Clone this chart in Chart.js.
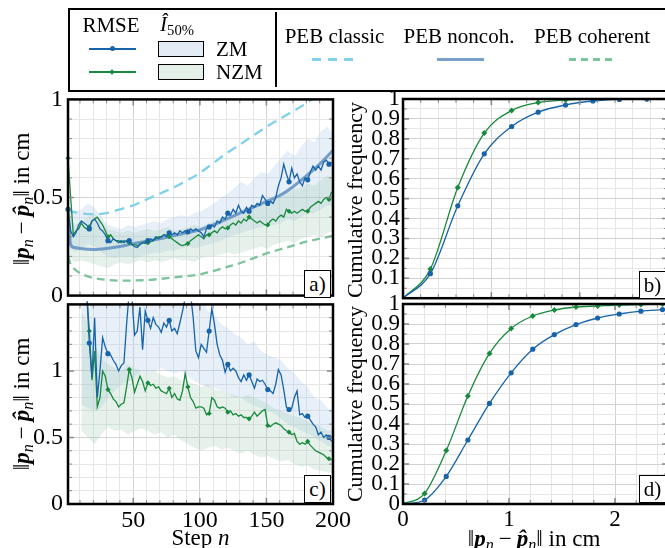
<!DOCTYPE html>
<html><head><meta charset="utf-8">
<script src="https://cdn.jsdelivr.net/npm/chart.js@4.4.1/dist/chart.umd.min.js"></script>
<style>
html,body{margin:0;padding:0;background:#fff;}
body{width:665px;height:548px;overflow:hidden;position:relative;font-family:"Liberation Serif","Times New Roman","DejaVu Serif",serif;color:#000;}
canvas{position:absolute;}
.t{position:absolute;white-space:nowrap;line-height:1;}
.c{transform:translate(-50%,-50%);}
.r{transform:translate(-50%,-50%) rotate(-90deg);}
sub{font-size:70%;vertical-align:-0.28em;line-height:0;}
.box{position:absolute;border:1.5px solid #000;background:#fff;box-sizing:border-box;}
.abs{position:absolute;}
.op{margin:0 0.22em;}
</style></head><body>

<canvas id="ca" width="345" height="235" style="left:0;top:80px"></canvas>
<canvas id="cb" width="345" height="235" style="left:340px;top:80px"></canvas>
<canvas id="cc" width="365" height="263" style="left:0;top:285px"></canvas>
<canvas id="cd" width="345" height="263" style="left:340px;top:285px"></canvas>

<!-- legend -->
<div class="abs" style="left:68px;top:8px;width:630px;height:84px;border:2px solid #000;box-sizing:border-box;"></div>
<div class="t c" style="left:111px;top:25px;font-size:21px">RMSE</div>
<div class="t c" style="left:177px;top:24px;font-size:21px"><i>Î</i><sub>50%</sub></div>
<div class="abs" style="left:89px;top:48px;width:47px;height:1.6px;background:#1764ab"></div>
<div class="abs" style="left:109.5px;top:46.3px;width:5px;height:5px;border-radius:50%;background:#1764ab"></div>
<div class="abs" style="left:89px;top:71px;width:47px;height:1.6px;background:#178a3c"></div>
<div class="abs" style="left:110px;top:69.8px;width:4px;height:4px;transform:rotate(45deg);background:#178a3c"></div>
<div class="abs" style="left:158px;top:41px;width:46px;height:16px;border:1px solid #000;background:#e3ebf5;box-sizing:border-box"></div>
<div class="abs" style="left:158px;top:64px;width:46px;height:16px;border:1px solid #000;background:#e3efe7;box-sizing:border-box"></div>
<div class="t" style="left:216px;top:39px;font-size:21px">ZM</div>
<div class="t" style="left:216px;top:62px;font-size:21px">NZM</div>
<div class="abs" style="left:275px;top:12px;width:1.5px;height:75px;background:#000"></div>
<div class="t c" style="left:334.5px;top:36px;font-size:21px">PEB classic</div>
<div class="t c" style="left:459px;top:36px;font-size:21px">PEB noncoh.</div>
<div class="t c" style="left:592px;top:36px;font-size:21px">PEB coherent</div>
<div class="abs" style="left:312px;top:58px;width:43px;height:2.5px;background:repeating-linear-gradient(90deg,#7fd1ec 0 9px,transparent 9px 16px)"></div>
<div class="abs" style="left:437px;top:57.5px;width:47px;height:3px;background:rgba(88,138,190,0.8)"></div>
<div class="abs" style="left:569px;top:58px;width:48px;height:2.5px;background:repeating-linear-gradient(90deg,#7cc49a 0 7px,transparent 7px 12px)"></div>

<!-- axis titles -->
<div class="t r" style="left:21px;top:198.5px;font-size:23px">‖<b><i>p</i></b><sub><i>n</i></sub><span class="op">−</span><b><i>p̂</i></b><sub><i>n</i></sub>‖ in cm</div>
<div class="t r" style="left:21px;top:403.5px;font-size:23px">‖<b><i>p</i></b><sub><i>n</i></sub><span class="op">−</span><b><i>p̂</i></b><sub><i>n</i></sub>‖ in cm</div>
<div class="t r" style="left:355px;top:199.5px;font-size:22px">Cumulative frequency</div>
<div class="t r" style="left:355px;top:404px;font-size:22px">Cumulative frequency</div>
<div class="t c" style="left:200.5px;top:537px;font-size:23px">Step <i>n</i></div>
<div class="t c" style="left:534px;top:538px;font-size:23px">‖<b><i>p</i></b><sub><i>n</i></sub><span class="op">−</span><b><i>p̂</i></b><sub><i>n</i></sub>‖ in cm</div>

<!-- panel labels -->
<div class="box" style="left:304px;top:270px;width:27px;height:28px"></div><div class="t c" style="left:317.5px;top:284px;font-size:21px">a)</div>
<div class="box" style="left:639px;top:271px;width:27px;height:28px"></div><div class="t c" style="left:652.5px;top:285px;font-size:21px">b)</div>
<div class="box" style="left:304px;top:475px;width:27px;height:28px"></div><div class="t c" style="left:317.5px;top:489px;font-size:21px">c)</div>
<div class="box" style="left:639px;top:475px;width:27px;height:28px"></div><div class="t c" style="left:652.5px;top:489px;font-size:21px">d)</div>

<script>
// ---------------- DATA ----------------
const stepsA = [1,3,5,7,9,11,13,15,17,19,21,23,25,27,29,31,33,35,37,39,41,43,45,47,49,51,53,55,57,59,61,63,65,67,69,71,73,75,77,79,81,83,85,87,89,91,93,95,97,99,101,103,105,107,109,111,113,115,117,119,121,123,125,127,129,131,133,135,137,139,141,143,145,147,149,151,153,155,157,159,161,163,165,167,169,171,173,175,177,179,181,183,185,187,189,191,193,195,197,199];
const zmRmseA = [0.44,0.33,0.30,0.32,0.36,0.38,0.37,0.36,0.34,0.38,
 0.39,0.37,0.34,0.33,0.31,0.28,0.27,0.29,0.28,0.27,
 0.28,0.27,0.28,0.28,0.26,0.25,0.245,0.26,0.27,0.265,
 0.28,0.29,0.28,0.30,0.29,0.30,0.31,0.30,0.32,0.31,
 0.32,0.31,0.33,0.32,0.33,0.325,0.34,0.33,0.34,0.33,
 0.32,0.30,0.34,0.35,0.36,0.35,0.38,0.37,0.40,0.39,
 0.42,0.41,0.44,0.42,0.46,0.43,0.42,0.45,0.43,0.46,
 0.45,0.47,0.46,0.51,0.49,0.47,0.48,0.47,0.50,0.56,
 0.60,0.67,0.62,0.58,0.65,0.60,0.62,0.58,0.56,0.60,
 0.59,0.63,0.66,0.64,0.66,0.64,0.68,0.69,0.67,0.68];
const nzmRmseA = [0.70,0.50,0.31,0.33,0.34,0.37,0.35,0.34,0.35,0.38,
 0.39,0.40,0.38,0.36,0.33,0.30,0.31,0.29,0.28,0.28,
 0.27,0.28,0.275,0.27,0.26,0.26,0.255,0.26,0.27,0.275,
 0.27,0.275,0.28,0.29,0.30,0.30,0.31,0.31,0.30,0.29,
 0.28,0.27,0.26,0.255,0.26,0.265,0.28,0.29,0.30,0.31,
 0.30,0.29,0.31,0.31,0.32,0.33,0.32,0.34,0.35,0.34,
 0.345,0.36,0.37,0.36,0.38,0.37,0.39,0.38,0.40,0.39,
 0.38,0.37,0.38,0.37,0.36,0.36,0.38,0.39,0.38,0.40,
 0.41,0.40,0.44,0.43,0.42,0.43,0.42,0.43,0.44,0.43,
 0.43,0.45,0.46,0.47,0.48,0.47,0.49,0.50,0.49,0.53];

const stepsC = [15,17,19,21,23,25,27,29,31,33,35,37,39,41,43,45,47,49,51,53,55,57,59,61,63,65,67,69,71,73,75,77,79,81,83,85,87,89,91,93,95,97,99,101,103,105,107,109,111,113,115,117,119,121,123,125,127,129,131,133,135,137,139,141,143,145,147,149,151,153,155,157,159,161,163,165,167,169,171,173,175,177,179,181,183,185,187,189,191,193,195,197,199];
const zmRmseC = [1.60,
 1.21,0.95,1.40,0.80,1.00,1.25,1.18,1.13,1.12,1.08,1.05,1.00,1.04,1.06,1.35,1.60,1.55,1.27,1.30,1.48,1.16,1.45,1.38,1.32,1.40,1.35,1.33,1.29,1.36,1.33,1.38,1.30,1.32,1.28,1.36,1.45,1.55,1.60,1.58,1.40,1.15,1.10,
 1.20,1.17,1.14,1.30,1.47,1.35,1.20,1.12,1.08,0.99,
 1.05,1.00,1.02,1.00,0.95,0.92,0.97,0.93,0.97,0.92,
 0.87,0.94,0.92,0.93,0.90,0.86,0.85,0.83,0.90,1.01,
 0.97,0.86,0.73,0.71,0.72,0.80,0.85,0.67,0.68,0.65,
 0.66,0.63,0.60,0.58,0.52,0.54,0.50,0.52,0.50,0.47];
const nzmRmseC = [1.60,
 1.30,0.93,1.15,0.73,0.80,1.00,0.96,0.86,0.83,0.79,0.77,0.73,0.75,0.76,0.88,1.01,0.95,0.84,0.90,0.96,0.92,0.85,0.91,0.89,0.90,0.87,0.88,0.85,0.84,0.83,0.87,0.80,0.83,0.79,0.78,0.85,0.98,0.88,0.80,0.77,0.72,0.73,
 0.73,0.72,0.67,0.68,0.80,0.78,0.73,0.72,0.73,0.72,
 0.69,0.70,0.67,0.68,0.66,0.67,0.65,0.65,0.64,0.66,
 0.69,0.66,0.68,0.70,0.71,0.59,0.58,0.60,0.61,0.60,
 0.59,0.565,0.55,0.54,0.52,0.53,0.47,0.45,0.46,0.45,
 0.47,0.44,0.42,0.40,0.39,0.38,0.37,0.35,0.34,0.33];

const bandStepsA = [1,6,11,16,21,26,31,36,41,46,51,56,61,66,71,76,81,86,91,96,101,106,111,116,121,126,131,136,141,146,151,156,161,166,171,176,181,186,191,196,200];
const zmUpA  = [0.46,0.42,0.44,0.47,0.45,0.40,0.36,0.35,0.34,0.36,0.35,0.36,0.37,0.38,0.37,0.39,0.40,0.41,0.40,0.42,0.43,0.45,0.47,0.50,0.52,0.55,0.58,0.56,0.60,0.63,0.62,0.66,0.70,0.74,0.71,0.76,0.80,0.78,0.84,0.86,0.82];
const zmLoA  = [0.25,0.22,0.24,0.26,0.25,0.22,0.20,0.19,0.20,0.20,0.19,0.20,0.21,0.22,0.22,0.23,0.23,0.24,0.25,0.24,0.25,0.26,0.27,0.28,0.30,0.31,0.32,0.33,0.34,0.35,0.36,0.36,0.37,0.39,0.38,0.40,0.42,0.42,0.44,0.46,0.45];
const nzmUpA = [0.42,0.36,0.38,0.40,0.42,0.38,0.34,0.33,0.32,0.33,0.32,0.33,0.34,0.33,0.34,0.35,0.33,0.34,0.35,0.36,0.35,0.37,0.38,0.40,0.41,0.43,0.44,0.45,0.46,0.47,0.48,0.50,0.52,0.53,0.54,0.55,0.57,0.56,0.59,0.61,0.60];
const nzmLoA = [0.20,0.17,0.18,0.17,0.16,0.15,0.14,0.16,0.17,0.16,0.17,0.18,0.17,0.18,0.17,0.18,0.19,0.18,0.18,0.17,0.19,0.20,0.20,0.21,0.22,0.21,0.22,0.23,0.24,0.25,0.24,0.26,0.27,0.28,0.27,0.29,0.30,0.31,0.30,0.32,0.33];

const bandStepsC = [11,16,21,26,31,36,41,46,51,56,61,66,71,76,81,86,91,96,101,106,111,116,121,126,131,136,141,146,151,156,161,166,171,176,181,186,191,196,200];
const zmUpC  = [1.55,1.6,1.6,1.6,1.6,1.6,1.6,1.6,1.6,1.6,1.6,1.6,1.6,1.6,1.6,1.6,1.6,1.6,1.55,1.45,1.42,1.35,1.32,1.28,1.25,1.20,1.22,1.15,1.12,1.10,1.08,1.02,0.98,0.92,0.88,0.80,0.78,0.72,0.70];
const zmLoC  = [0.75,0.72,0.70,0.72,0.80,0.85,0.90,0.92,0.95,1.00,0.98,1.00,1.02,1.00,0.98,1.00,0.96,0.92,0.90,0.88,0.87,0.85,0.83,0.80,0.80,0.76,0.74,0.72,0.70,0.68,0.64,0.60,0.58,0.55,0.53,0.50,0.47,0.44,0.42];
const nzmUpC = [1.45,1.35,1.20,1.10,1.05,1.02,1.00,1.05,1.02,1.00,0.98,1.00,0.97,0.95,0.96,0.93,0.92,0.90,0.88,0.90,0.86,0.85,0.83,0.82,0.80,0.82,0.80,0.78,0.75,0.72,0.70,0.68,0.66,0.65,0.62,0.60,0.58,0.55,0.55];
const nzmLoC = [0.55,0.50,0.45,0.52,0.58,0.55,0.56,0.52,0.55,0.57,0.55,0.52,0.54,0.50,0.52,0.48,0.45,0.42,0.40,0.42,0.44,0.41,0.42,0.40,0.38,0.40,0.37,0.35,0.36,0.34,0.32,0.33,0.30,0.28,0.29,0.26,0.25,0.24,0.23];

const pebSteps    = [1,3,6,10,20,30,40,50,60,70,80,90,100,110,120,130,140,150,160,170,180,190,200];
const pebClassic  = [0.44,0.43,0.425,0.42,0.415,0.42,0.44,0.46,0.49,0.52,0.55,0.585,0.625,0.675,0.725,0.77,0.815,0.86,0.90,0.94,0.98,1.03,1.08];
const pebNoncoh   = [0.44,0.26,0.245,0.24,0.235,0.24,0.25,0.265,0.277,0.29,0.305,0.32,0.335,0.36,0.39,0.42,0.45,0.48,0.51,0.555,0.61,0.67,0.74];
const pebCoherent = [0.20,0.16,0.135,0.115,0.09,0.08,0.076,0.077,0.079,0.085,0.092,0.10,0.108,0.125,0.145,0.165,0.19,0.215,0.235,0.255,0.275,0.29,0.305];

const cdfXb   = [0,0.31,0.62,0.92,1.23,1.53,1.84,2.15,2.45,2.76,3.07];
const zmCdfB  = [0,0.123,0.464,0.725,0.862,0.934,0.97,0.99,0.998,1.0,1.0];
const nzmCdfB = [0,0.146,0.556,0.829,0.942,0.982,0.995,1.0,1.0,1.0,1.0];
const cdfXd   = [0,0.204,0.408,0.612,0.816,1.02,1.224,1.428,1.632,1.836,2.04,2.244,2.448,2.652];
const zmCdfD  = [0,0.02,0.138,0.32,0.503,0.656,0.774,0.847,0.897,0.93,0.95,0.964,0.972,0.98];
const nzmCdfD = [0,0.053,0.267,0.54,0.753,0.878,0.94,0.97,0.985,0.99,0.995,0.997,1.0,1.0];

// ---------------- STYLE / HELPERS ----------------
Chart.defaults.font.family = "'Liberation Serif','Times New Roman','DejaVu Serif',serif";
Chart.defaults.color = '#000';
Chart.defaults.animation = false;

const COL = {zm:'#1764ab', nzm:'#178a3c', classic:'#7fd1ec', noncoh:'rgba(88,138,190,0.8)', coh:'#7cc49a',
  zmBand:'rgba(170,198,230,0.28)', nzmBand:'rgba(160,205,180,0.28)'};

function range(a, b, s){ const r=[]; for(let k=0; a+k*s<=b+1e-9; k++) r.push(Math.round((a+k*s)*1000)/1000); return r; }
function pts(xs, ys){ return xs.map((x,i)=>({x:x, y:ys[i]})); }
const markTS = ctx => { const n = ctx.raw ? ctx.raw.x : 0; const i=(n-1)/2; return Math.round(Math.round(i/7.5)*7.5)===i ? 2.6 : 0; };

function rmseDs(xs, ys, color, style, order, radius){
  return {data: pts(xs,ys), borderColor: color, backgroundColor: color, borderWidth: 1.3,
    pointRadius: radius, pointHoverRadius: 0, pointStyle: style, pointBorderWidth: 0, tension: 0, order: order, clip: 3};
}
function cdfDs(xs, ys, color, style, order){
  return {data: pts(xs,ys), borderColor: color, backgroundColor: color, borderWidth: 1.3,
    pointRadius: style==='circle'?2.6:3, pointHoverRadius: 0, pointStyle: style, pointBorderWidth: 0,
    cubicInterpolationMode:'monotone', order: order};
}
function bandDs(xs, lo, up, color, order){
  return [
    {data: pts(xs, lo), borderWidth: 0, borderColor:'transparent', pointRadius: 0, fill: false, order: order},
    {data: pts(xs, up), borderWidth: 0, borderColor:'transparent', pointRadius: 0, fill: '-1', backgroundColor: color, order: order}
  ];
}
function pebDs(ys, color, width, dash){
  return {data: pts(pebSteps, ys), borderColor: color, borderWidth: width, borderDash: dash, pointRadius: 0,
    cubicInterpolationMode:'monotone', order: 5, clip: 0};
}

const framePlugin = {
  id:'frame',
  afterDatasetsDraw(chart, args, o){
    const {ctx, chartArea:a, scales:{x, y}} = chart;
    ctx.save();
    ctx.strokeStyle = '#8a8a8a';
    x.ticks.forEach(t => {
      const p = x.getPixelForValue(t.value); const maj = o.xMaj(t.value);
      const L = maj ? 6 : 4; ctx.lineWidth = maj ? 1.6 : 1;
      ctx.beginPath(); ctx.moveTo(p, a.bottom); ctx.lineTo(p, a.bottom-L); ctx.moveTo(p, a.top); ctx.lineTo(p, a.top+L); ctx.stroke();
    });
    y.ticks.forEach(t => {
      const p = y.getPixelForValue(t.value); const maj = o.yMaj(t.value);
      const L = maj ? 6 : 4; ctx.lineWidth = maj ? 1.6 : 1;
      ctx.beginPath(); ctx.moveTo(a.left, p); ctx.lineTo(a.left+L, p); ctx.moveTo(a.right, p); ctx.lineTo(a.right-L, p); ctx.stroke();
    });
    ctx.restore();
  },
  afterDraw(chart){
    const {ctx, chartArea:a} = chart;
    ctx.save(); ctx.strokeStyle='#000'; ctx.lineWidth=2.5;
    ctx.strokeRect(a.left, a.top, a.right-a.left, a.bottom-a.top);
    ctx.restore();
  }
};

function makeChart(id, datasets, o){
  return new Chart(document.getElementById(id), {
    type:'line',
    data:{datasets: datasets},
    plugins:[framePlugin],
    options:{
      responsive:false, animation:false, events:[],
      layout:{padding:{top:o.pt, right:o.pr, left:0, bottom:0}},
      plugins:{legend:{display:false}, tooltip:{enabled:false}, frame:{xMaj:o.xMaj, yMaj:o.yMaj}},
      scales:{
        x:{type:'linear', min:o.xmin, max:o.xmax,
          afterBuildTicks: s => { s.ticks = o.xt.map(v=>({value:v})); },
          afterFit: s => { s.height = o.xh; },
          grid:{color: c => o.xMaj(c.tick.value) ? '#d2d2d2' : '#e6e6e6', lineWidth:1, drawTicks:false},
          border:{display:false},
          ticks:{display:o.xLab, font:{size:o.fs}, padding:2, maxRotation:0, autoSkip:false, callback:o.xcb}},
        y:{type:'linear', min:o.ymin, max:o.ymax,
          afterBuildTicks: s => { s.ticks = o.yt.map(v=>({value:v})); },
          afterFit: s => { s.width = o.yw; },
          grid:{color: c => o.yMaj(c.tick.value) ? '#d2d2d2' : '#e6e6e6', lineWidth:1, drawTicks:false},
          border:{display:false},
          ticks:{font:{size:o.fs}, padding:o.ypad, autoSkip:false, callback:o.ycb}}
      }
    }
  });
}

const tsX = {xmin:1, xmax:200, xt: range(10,200,10), xMaj: v => v%50===0, fs:24, ypad:5};
const lab05 = v => (v===0||v===0.5||v===1) ? String(v) : '';

// a)
makeChart('ca', [
  ...bandDs(bandStepsA, zmLoA, zmUpA, COL.zmBand, 10),
  ...bandDs(bandStepsA, nzmLoA, nzmUpA, COL.nzmBand, 9),
  pebDs(pebClassic, COL.classic, 2.3, [10,6]),
  pebDs(pebNoncoh, COL.noncoh, 3, []),
  pebDs(pebCoherent, COL.coh, 2.3, [8,5]),
  rmseDs(stepsA, nzmRmseA, COL.nzm, 'rectRot', 2, markTS),
  rmseDs(stepsA, zmRmseA, COL.zm, 'circle', 1, markTS)
], Object.assign({}, tsX, {pt:18, pr:12, xh:16, yw:68, ymin:0, ymax:1, yt: range(0,1,0.1),
  yMaj: v => v===0.5, xLab:false, xcb: () => '', ycb: lab05}));

// c)
makeChart('cc', [
  ...bandDs(bandStepsC, zmLoC, zmUpC, COL.zmBand, 10),
  ...bandDs(bandStepsC, nzmLoC, nzmUpC, COL.nzmBand, 9),
  rmseDs(stepsC, nzmRmseC, COL.nzm, 'rectRot', 2, markTS),
  rmseDs(stepsC, zmRmseC, COL.zm, 'circle', 1, markTS)
], Object.assign({}, tsX, {pt:18, pr:32, xh:44, yw:68, ymin:0, ymax:1.5, yt: range(0,1.5,0.1),
  yMaj: v => v===0.5||v===1, xLab:true, xcb: v => v%50===0 ? String(v) : '', ycb: lab05}));

const isTenth = v => Math.abs(v*10-Math.round(v*10))<1e-6;
const cdfY = v => isTenth(v) ? (v===0?'0':v===1?'1':v.toFixed(1)) : '';
const isInt = v => Math.abs(v-Math.round(v))<1e-6;

// b)
makeChart('cb', [
  cdfDs(cdfXb, nzmCdfB, COL.nzm, 'rectRot', 2),
  cdfDs(cdfXb, zmCdfB, COL.zm, 'circle', 1)
], {pt:19, pr:17, xh:15, yw:63, fs:23, ypad:3, xmin:0, xmax:3, xt: range(0,3,0.2), xMaj: isInt,
  ymin:0, ymax:1, yt: range(0,1,0.05), yMaj: isTenth, xLab:false, xcb: () => '', ycb: v => v===0 ? '' : cdfY(v)});

// d)
makeChart('cd', [
  cdfDs(cdfXd, nzmCdfD, COL.nzm, 'rectRot', 2),
  cdfDs(cdfXd, zmCdfD, COL.zm, 'circle', 1)
], {pt:19, pr:17, xh:44, yw:63, fs:23, ypad:3, xmin:0, xmax:2.5, xt: range(0,2.4,0.2), xMaj: isInt,
  ymin:0, ymax:1, yt: range(0,1,0.05), yMaj: isTenth, xLab:true, xcb: v => isInt(v) ? String(Math.round(v)) : '', ycb: cdfY});
</script>
</body></html>
